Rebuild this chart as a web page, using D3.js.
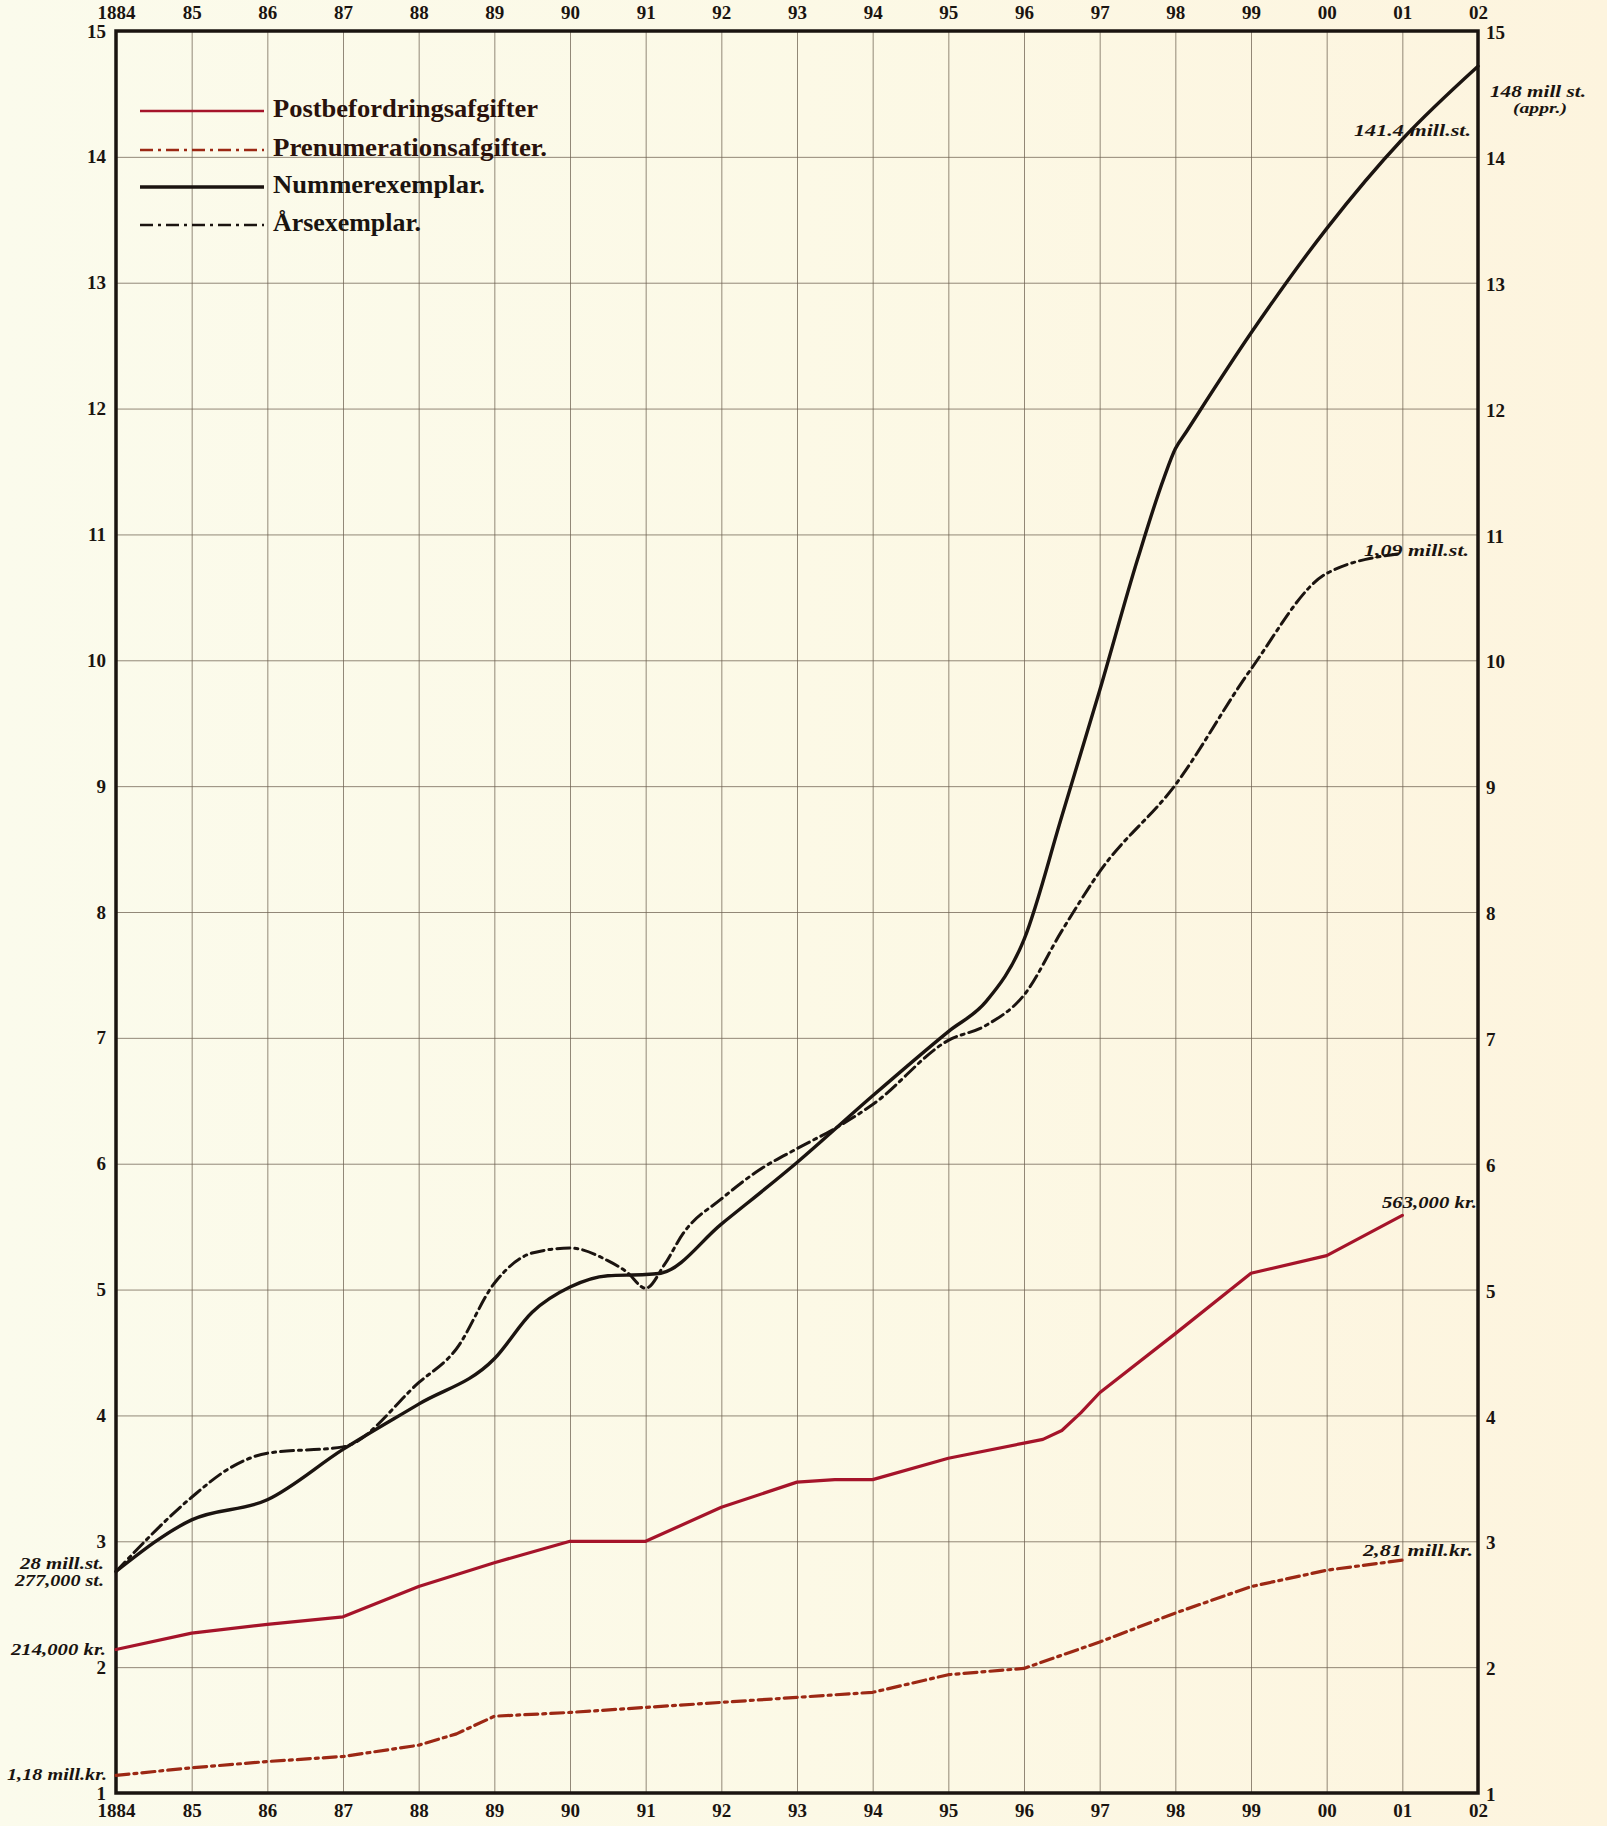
<!DOCTYPE html>
<html>
<head>
<meta charset="utf-8">
<script src="https://cdn.jsdelivr.net/npm/d3@7"></script>
<style>
  html, body { margin: 0; padding: 0; background: #fcf9e8; }
  svg { display: block; }
</style>
</head>
<body>
<svg id="chart" width="1607" height="1826"></svg>
<script>
// ---------- DATA ----------
const yearTicks = [1884,1885,1886,1887,1888,1889,1890,1891,1892,1893,1894,1895,1896,1897,1898,1899,1900,1901,1902];
const yearLabels = ["1884","85","86","87","88","89","90","91","92","93","94","95","96","97","98","99","00","01","02"];
const valueTicks = [1,2,3,4,5,6,7,8,9,10,11,12,13,14,15];

const seriesNames = ["Postbefordringsafgifter","Prenumerationsafgifter.","Nummerexemplar.","Årsexemplar."];

// Postbefordringsafgifter (red, solid)
const postYears  = [1884,1885,1886,1887,1888,1889,1890,1891,1892,1893,1893.5,1894,1895,1896,1896.25,1896.5,1896.75,1897,1898,1899,1900,1901];
const postValues = [2.14,2.27,2.34,2.40,2.64,2.83,3.00,3.00,3.27,3.47,3.49,3.49,3.66,3.78,3.81,3.88,4.02,4.18,4.65,5.13,5.27,5.59];

// Prenumerationsafgifter (red, dash-dot)
const prenYears  = [1884,1885,1886,1887,1888,1888.5,1889,1890,1891,1892,1893,1894,1895,1896,1897,1898,1899,1900,1901];
const prenValues = [1.14,1.20,1.25,1.29,1.38,1.47,1.61,1.64,1.68,1.72,1.76,1.80,1.94,1.99,2.20,2.43,2.64,2.77,2.85];

// Nummerexemplar (black, solid)
const numYears  = [1884,1885,1886,1887,1888,1889,1889.5,1890,1890.5,1891,1891.2,1892,1893,1894,1895,1895.5,1896,1896.5,1897,1897.5,1897.85,1898,1898.15,1899,1900,1901,1902];
const numValues = [2.76,3.17,3.33,3.73,4.09,4.45,4.82,5.02,5.11,5.12,5.13,5.52,6.01,6.54,7.05,7.29,7.78,8.76,9.76,10.80,11.45,11.68,11.82,12.60,13.43,14.14,14.72];

// Årsexemplar (black, dash-dot)
const arsYears  = [1884,1885,1885.5,1886,1887,1888,1888.5,1889,1889.5,1890,1890.5,1890.75,1891,1891.25,1891.5,1892,1892.5,1893,1893.5,1894,1895,1895.5,1896,1896.5,1897,1898,1899,1900,1901];
const arsValues = [2.76,3.35,3.58,3.70,3.75,4.26,4.53,5.05,5.29,5.33,5.23,5.14,5.01,5.20,5.45,5.72,5.95,6.12,6.28,6.47,6.98,7.10,7.34,7.85,8.32,9.01,9.93,10.69,10.85];

// ---------- CHART ----------
const svg = d3.select("#chart");
const W = 1607, H = 1826;
const mLeft = 116, mRight = 1478, mTop = 31, mBottom = 1793;

const x = d3.scaleLinear().domain([1884, 1902]).range([mLeft, mRight]);
const y = d3.scaleLinear().domain([1, 15]).range([mBottom, mTop]);

// paper background
const defs = svg.append("defs");
const grad = defs.append("linearGradient").attr("id", "paper").attr("x1", "0").attr("x2", "1").attr("y1", "0").attr("y2", "0");
grad.append("stop").attr("offset", "0").attr("stop-color", "#fbfbec");
grad.append("stop").attr("offset", "0.5").attr("stop-color", "#fcf9e6");
grad.append("stop").attr("offset", "1").attr("stop-color", "#fdf4de");
svg.append("rect").attr("width", W).attr("height", H).attr("fill", "url(#paper)");

const serif = "'Liberation Serif', 'DejaVu Serif', serif";

// grid
const gridColor = "#6f6152";
svg.append("g")
  .attr("transform", `translate(0,${mBottom})`)
  .call(d3.axisBottom(x).tickValues(yearTicks).tickSize(-(mBottom - mTop)).tickFormat(""))
  .call(g => g.select(".domain").remove())
  .call(g => g.selectAll("line").attr("stroke", gridColor).attr("stroke-width", 1).attr("opacity", 0.75));

svg.append("g")
  .attr("transform", `translate(${mLeft},0)`)
  .call(d3.axisLeft(y).tickValues(valueTicks).tickSize(-(mRight - mLeft)).tickFormat(""))
  .call(g => g.select(".domain").remove())
  .call(g => g.selectAll("line").attr("stroke", gridColor).attr("stroke-width", 1).attr("opacity", 0.75));

// frame
svg.append("rect")
  .attr("x", mLeft).attr("y", mTop)
  .attr("width", mRight - mLeft).attr("height", mBottom - mTop)
  .attr("fill", "none").attr("stroke", "#1a1410").attr("stroke-width", 3.5);

// axes labels
const fmtYear = d => yearLabels[yearTicks.indexOf(d)];
function styleAxis(g) {
  g.select(".domain").remove();
  g.selectAll("line").remove();
  g.selectAll("text")
    .attr("font-family", serif)
    .attr("font-weight", "bold")
    .attr("font-size", 19)
    .attr("fill", "#1a1410");
}
svg.append("g")
  .attr("transform", `translate(0,${mBottom})`)
  .call(d3.axisBottom(x).tickValues(yearTicks).tickFormat(fmtYear).tickSize(0).tickPadding(11))
  .call(styleAxis);
svg.append("g")
  .attr("transform", `translate(0,${mTop})`)
  .call(d3.axisTop(x).tickValues(yearTicks).tickFormat(fmtYear).tickSize(0).tickPadding(12))
  .call(styleAxis);
svg.append("g")
  .attr("transform", `translate(${mLeft},0)`)
  .call(d3.axisLeft(y).tickValues(valueTicks).tickFormat(d => d).tickSize(0).tickPadding(10))
  .call(styleAxis);
svg.append("g")
  .attr("transform", `translate(${mRight},0)`)
  .call(d3.axisRight(y).tickValues(valueTicks).tickFormat(d => d).tickSize(0).tickPadding(8))
  .call(styleAxis)
  .call(g => g.selectAll("text").attr("dy", "0.4em"));

// lines
const smooth = d3.line().x(d => x(d[0])).y(d => y(d[1])).curve(d3.curveMonotoneX);
const straight = d3.line().x(d => x(d[0])).y(d => y(d[1])).curve(d3.curveLinear);
const zip = (a, b) => a.map((v, i) => [v, b[i]]);

const seriesData = [
  { name: seriesNames[0], pts: zip(postYears, postValues), color: "#a5142a", width: 3.2, dash: null, gen: straight, legendLen: 265 },
  { name: seriesNames[1], pts: zip(prenYears, prenValues), color: "#9c2814", width: 3.2, dash: "13,5,3,5", gen: straight, legendLen: 274 },
  { name: seriesNames[2], pts: zip(numYears, numValues), color: "#1b1410", width: 3.4, dash: null, gen: smooth, legendLen: 212 },
  { name: seriesNames[3], pts: zip(arsYears, arsValues), color: "#1b1410", width: 3.0, dash: "13,5,3,5", gen: smooth, legendLen: 148 }
];

seriesData.forEach(s => {
  svg.append("path")
    .datum(s.pts)
    .attr("d", s.gen)
    .attr("fill", "none")
    .attr("stroke", s.color)
    .attr("stroke-width", s.width)
    .attr("stroke-dasharray", s.dash)
    .attr("stroke-linejoin", "round")
    .attr("stroke-linecap", "round");
});

// legend
const legendY = [111, 150, 187, 225];
seriesData.forEach((s, i) => {
  svg.append("line")
    .attr("x1", 140).attr("x2", 264)
    .attr("y1", legendY[i]).attr("y2", legendY[i])
    .attr("stroke", s.color)
    .attr("stroke-width", i === 2 ? 3.4 : 2.6)
    .attr("stroke-dasharray", s.dash);
  svg.append("text")
    .attr("x", 273).attr("y", legendY[i] + 6)
    .attr("font-family", serif)
    .attr("font-weight", "bold")
    .attr("font-size", 25)
    .attr("textLength", s.legendLen)
    .attr("lengthAdjust", "spacingAndGlyphs")
    .attr("fill", i < 2 ? "#2a120c" : "#1a1410")
    .text(s.name);
});

// annotations
const ann = (txt, xx, yy, anchor, len, size) => svg.append("text")
  .attr("x", xx).attr("y", yy)
  .attr("text-anchor", anchor || "start")
  .attr("font-family", serif)
  .attr("font-weight", "bold")
  .attr("font-style", "italic")
  .attr("font-size", size || 17)
  .attr("textLength", len)
  .attr("lengthAdjust", "spacingAndGlyphs")
  .attr("fill", "#1a1410")
  .text(txt);

ann("28 mill.st.", 104, 1569, "end", 84, 16);
ann("277,000 st.", 104, 1586, "end", 89, 16);
ann("214,000 kr.", 106, 1655, "end", 95);
ann("1,18 mill.kr.", 107, 1780, "end", 100);

ann("148 mill st.", 1538, 97, "middle", 96);
ann("(appr.)", 1540, 113, "middle", 54, 15);
ann("141.4 mill.st.", 1471, 136, "end", 117);
ann("1,09 mill.st.", 1469, 556, "end", 105);
ann("563,000 kr.", 1477, 1208, "end", 95);
ann("2,81 mill.kr.", 1473, 1556, "end", 110);
</script>
</body>
</html>
